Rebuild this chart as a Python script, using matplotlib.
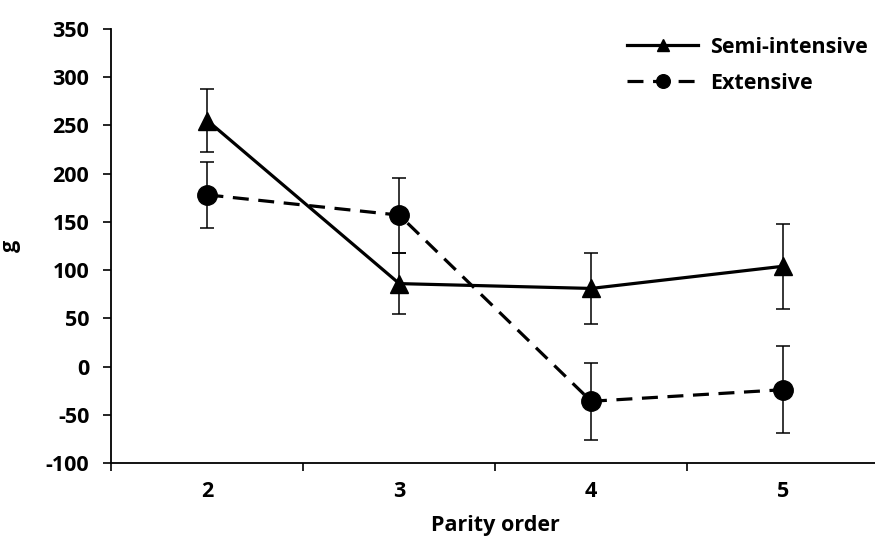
import matplotlib
matplotlib.use("Agg")
import matplotlib.pyplot as plt
import numpy as np

categories = ["2", "3", "4", "5"]
semi_values = [255, 86, 81, 104]
semi_err = [33, 32, 37, 44]
ext_values = [178, 157, -36, -24]
ext_err = [34, 39, 40, 45]
y_ticks = [-100, -50, 0, 50, 100, 150, 200, 250, 300, 350]

FS = 15.5
plt.rcParams['font.family'] = ['Open Sans', 'DejaVu Sans']
plt.rcParams['font.weight'] = 'bold'

fig = plt.figure(figsize=(8.75, 5.41), dpi=100)
ax = fig.add_axes([111.5/875, 78/541, 767.5/875, 434/541])

x = np.arange(len(categories))

ax.errorbar(x, semi_values, yerr=semi_err, fmt='none', ecolor='black',
            elinewidth=1.1, capsize=5, capthick=1.1, zorder=2)
ax.errorbar(x, ext_values, yerr=ext_err, fmt='none', ecolor='black',
            elinewidth=1.1, capsize=5, capthick=1.1, zorder=2)
ax.plot(x, semi_values, color='black', lw=2.3, marker='^', markersize=13,
        label='Semi-intensive', zorder=3)
ax.plot(x, ext_values, color='black', lw=2.3, linestyle=(0, (5, 3)), marker='o',
        markersize=14, label='Extensive', zorder=3)

ax.set_xlim(-0.5, len(categories) - 0.5)
ax.set_ylim(-100, 350)
ax.set_yticks(y_ticks)
ax.set_yticklabels([str(v) for v in y_ticks], fontsize=FS, fontweight='bold')
ax.set_xticks(x)
ax.set_xticklabels(categories, fontsize=FS, fontweight='bold')
ax.set_xticks(np.arange(len(categories) + 1) - 0.5, minor=True)
ax.tick_params(axis='x', which='major', length=0, pad=13)
ax.tick_params(axis='x', which='minor', length=6, width=1.2, direction='out')
ax.tick_params(axis='y', length=6, width=1.2, direction='out', pad=10)

ax.spines['top'].set_visible(False)
ax.spines['right'].set_visible(False)
ax.spines['left'].set_linewidth(1.3)
ax.spines['bottom'].set_linewidth(1.3)

ax.set_xlabel('Parity order', fontsize=FS, fontweight='bold', labelpad=9)
ax.set_ylabel('g', fontsize=FS, fontweight='bold', labelpad=18)

leg = ax.legend(loc='upper left', bbox_to_anchor=(627/875, 1 - 37/541),
                bbox_transform=fig.transFigure, frameon=False,
                borderpad=0, borderaxespad=0,
                handlelength=3.3, handletextpad=0.55, labelspacing=0.68,
                markerscale=0.7, prop={'weight': 'bold', 'size': FS})

fig.savefig('out.png', dpi=100)
